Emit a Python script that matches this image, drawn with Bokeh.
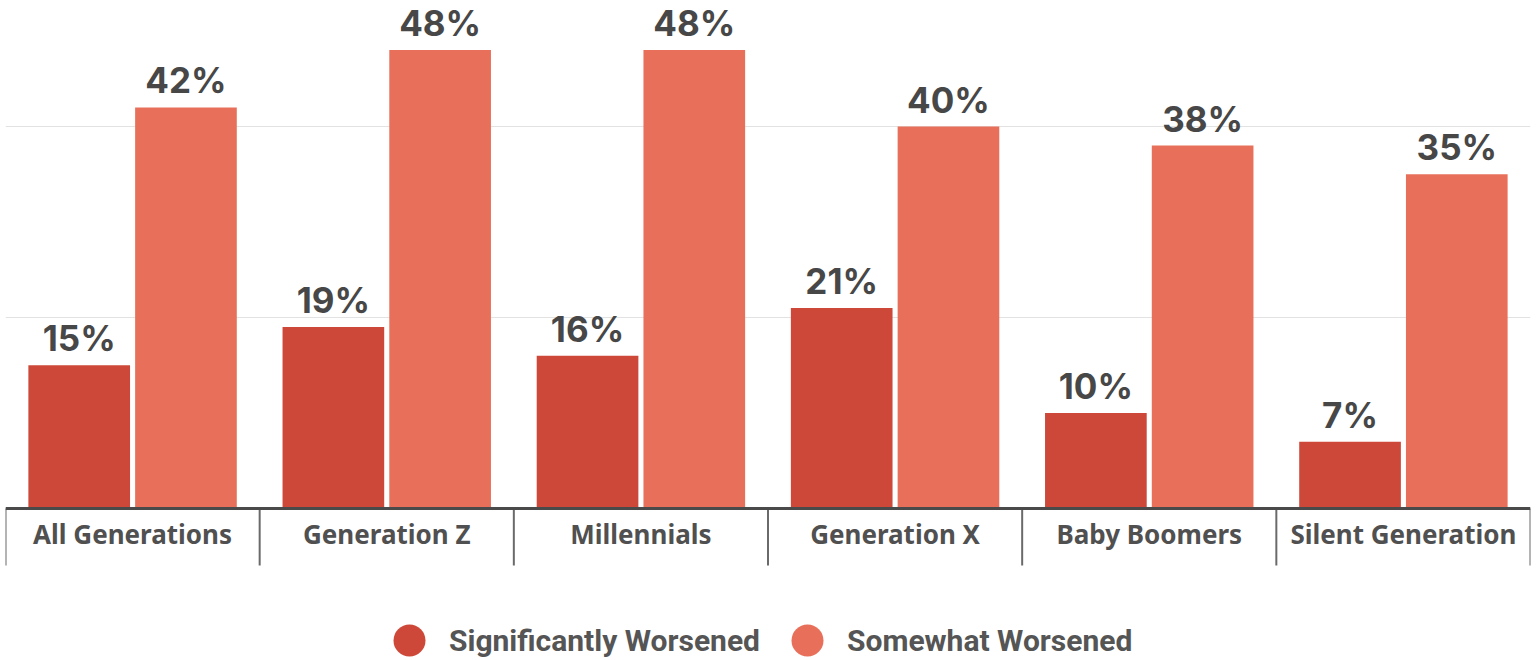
from bokeh.plotting import figure
from bokeh.models import ColumnDataSource, FactorRange, Range1d, FixedTicker, Legend, LegendItem
from bokeh.transform import dodge
from bokeh.core.properties import value
from bokeh.embed import file_html
from bokeh.resources import INLINE

categories = ["All Generations", "Generation Z", "Millennials",
              "Generation X", "Baby Boomers", "Silent Generation"]
significantly = [15, 19, 16, 21, 10, 7]
somewhat = [42, 48, 48, 40, 38, 35]
series_names = ["Significantly Worsened", "Somewhat Worsened"]
grid_ticks = [20, 40]

DARK = "#cd4838"
LIGHT = "#e8705a"
TEXT = "#474747"
FONT = "Noto Sans"

src = ColumnDataSource(dict(
    cat=categories,
    sig=significantly,
    some=somewhat,
    sig_lbl=[f"{v}%" for v in significantly],
    some_lbl=[f"{v}%" for v in somewhat],
))

W, H = 1537, 660
base_px = 508          # pixel row of the zero line
px_per_unit = 9.55
y_top = base_px / px_per_unit
y_bottom = -(H - base_px) / px_per_unit

p = figure(x_range=FactorRange(factors=categories, range_padding=0),
           y_range=Range1d(y_bottom, y_top),
           width=W, height=H, output_backend="svg", toolbar_location=None,
           min_border_left=5, min_border_right=7, min_border_top=0, min_border_bottom=0)
p.outline_line_color = None
p.background_fill_color = "white"
p.border_fill_color = "white"

# gridlines
p.xgrid.visible = False
p.ygrid.ticker = FixedTicker(ticks=grid_ticks)
p.ygrid.grid_line_color = "#e2e2e2"
p.ygrid.grid_line_width = 1
p.yaxis.visible = False

off = 0.21
bw = 0.40
p.vbar(x=dodge("cat", -off, range=p.x_range), top="sig", bottom=0, width=bw,
       source=src, fill_color=DARK, line_color=None)
p.vbar(x=dodge("cat", off, range=p.x_range), top="some", bottom=0, width=bw,
       source=src, fill_color=LIGHT, line_color=None)

for col, lbl, o in (("sig", "sig_lbl", -off), ("some", "some_lbl", off)):
    p.text(x=dodge("cat", o, range=p.x_range), y=col, text=lbl, source=src,
           text_align="center", text_baseline="alphabetic", y_offset=-27,
           text_font=value("Inter"), text_font_style="bold", text_font_size="35px",
           text_color=TEXT)

# category separators below the axis
bounds = list(range(len(categories) + 1))
p.segment(x0=bounds, y0=[0] * len(bounds), x1=bounds, y1=[-57 / px_per_unit] * len(bounds),
          line_color="#6a6a6a", line_width=2)

ax = p.xaxis[0]
ax.fixed_location = 0
ax.axis_line_color = "#4a4a4a"
ax.axis_line_width = 3
ax.major_tick_line_color = None
ax.minor_tick_line_color = None
ax.major_tick_out = 0
ax.major_tick_in = 0
ax.major_label_standoff = 7
ax.major_label_text_font = FONT
ax.major_label_text_font_style = "bold"
ax.major_label_text_font_size = "26px"
ax.major_label_text_color = "#505050"

# legend markers (size 0 on the chart, drawn only in the legend)
s1 = p.scatter(x=[categories[0]], y=[0], marker="circle", size=0, fill_color=DARK, line_color=None)
s2 = p.scatter(x=[categories[0]], y=[0], marker="circle", size=0, fill_color=LIGHT, line_color=None)
legend = Legend(items=[LegendItem(label=series_names[0], renderers=[s1]),
                       LegendItem(label=series_names[1], renderers=[s2])],
                orientation="horizontal", location=(364, -20),
                glyph_width=80, glyph_height=80, label_standoff=0, spacing=7,
                padding=0, margin=0, border_line_color=None, background_fill_alpha=0,
                label_text_font="Roboto", label_text_font_style="bold",
                label_text_font_size="30px", label_text_color="#555555")
p.add_layout(legend)

open("out.html", "w").write(file_html(p, INLINE))
